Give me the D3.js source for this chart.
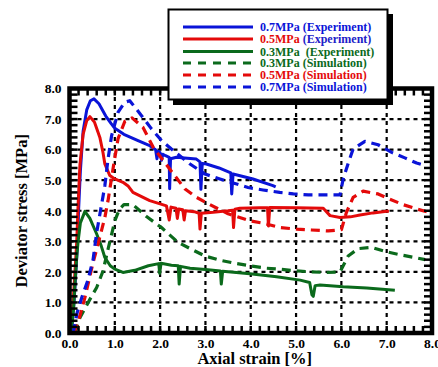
<!DOCTYPE html>
<html><head><meta charset="utf-8">
<script src="https://cdn.jsdelivr.net/npm/d3@7"></script>
<style>body{margin:0;background:#fff}svg{display:block}svg text{font-family:"Liberation Serif","Times New Roman",serif !important;font-weight:bold !important}</style>
</head><body>
<div id="chart"></div>
<script>
const xTicks = [0,1,2,3,4,5,6,7,8];
const yTicks = [0,1,2,3,4,5,6,7,8];
const xLabel = "Axial strain [%]";
const yLabel = "Deviator stress [MPa]";

// Experiments [strain, stress]
const exp07 = [[0.04,0],[0.1,1.0],[0.14,2.0],[0.18,3.0],[0.2,4.0],[0.24,5.3],[0.3,6.6],[0.38,7.3],[0.46,7.6],[0.54,7.66],[0.65,7.5],[0.8,7.1],[0.92,6.85],[1.0,6.7],[1.2,6.5],[1.5,6.3],[1.77,6.13],[1.9,6.0],[1.93,5.7],[1.96,5.95],[2.0,5.9],[2.03,5.65],[2.06,5.85],[2.12,5.8],[2.2,5.75],[2.21,4.72],[2.23,5.7],[2.36,5.75],[2.6,5.72],[2.8,5.69],[2.88,5.6],[2.9,4.7],[2.93,5.55],[3.02,5.53],[3.3,5.4],[3.56,5.24],[3.58,4.55],[3.61,5.2],[4.05,5.04],[4.49,4.82],[4.55,4.78]];
const exp05 = [[0.03,0],[0.08,1.0],[0.12,2.0],[0.16,3.0],[0.19,4.2],[0.23,5.5],[0.3,6.5],[0.38,6.95],[0.45,7.08],[0.55,6.9],[0.67,6.4],[0.74,5.9],[0.78,5.53],[0.89,5.15],[1.0,5.04],[1.18,4.93],[1.3,4.8],[1.4,4.6],[1.77,4.33],[2.14,4.16],[2.2,3.7],[2.24,4.12],[2.35,4.08],[2.38,3.75],[2.41,4.06],[2.5,4.03],[2.53,3.7],[2.56,4.0],[2.75,3.97],[2.86,3.92],[2.88,3.4],[2.91,3.92],[3.17,3.95],[3.5,4.0],[3.6,4.02],[3.62,3.45],[3.65,4.05],[3.76,4.08],[4.2,4.1],[4.37,4.1],[4.39,3.5],[4.42,4.11],[5.0,4.1],[5.6,4.08],[5.75,3.84],[5.97,3.78],[6.2,3.8],[6.41,3.86],[6.7,3.93],[7.0,3.98],[7.05,3.98]];
const exp03 = [[0.04,0],[0.09,0.8],[0.12,1.6],[0.16,2.5],[0.19,3.0],[0.24,3.6],[0.34,3.98],[0.45,3.75],[0.6,3.24],[0.7,2.85],[0.78,2.47],[0.9,2.2],[1.0,2.09],[1.18,1.98],[1.44,2.05],[1.74,2.2],[1.97,2.27],[1.99,1.95],[2.02,2.28],[2.25,2.22],[2.4,2.2],[2.42,1.6],[2.45,2.18],[2.66,2.12],[3.0,2.08],[3.33,2.03],[3.35,1.6],[3.38,2.02],[3.98,1.94],[4.57,1.84],[5.09,1.73],[5.3,1.65],[5.35,1.25],[5.38,1.2],[5.42,1.55],[5.53,1.57],[6.04,1.51],[6.56,1.47],[7.18,1.4]];

// Simulations
const sim03 = [[0.12,0],[0.23,0.5],[0.45,1.1],[0.6,1.49],[0.74,2.03],[0.86,2.8],[1.0,3.67],[1.1,4.05],[1.2,4.2],[1.4,4.2],[1.7,3.81],[2.03,3.45],[2.4,2.96],[2.69,2.74],[2.99,2.52],[3.32,2.38],[3.69,2.27],[3.98,2.2],[4.35,2.12],[4.68,2.08],[5.01,2.03],[5.34,2.0],[5.67,1.98],[5.97,2.0],[6.04,2.2],[6.15,2.52],[6.37,2.76],[6.67,2.8],[6.96,2.67],[7.29,2.56],[7.62,2.47],[7.85,2.4]];
const sim05 = [[0.1,0],[0.23,0.56],[0.34,1.16],[0.52,2.3],[0.63,2.91],[0.78,3.78],[0.85,4.33],[0.96,5.37],[1.07,6.35],[1.22,6.92],[1.38,7.04],[1.62,6.73],[1.85,6.07],[2.1,5.58],[2.55,4.71],[2.8,4.44],[3.1,4.2],[3.5,3.9],[3.98,3.67],[4.31,3.58],[4.64,3.45],[5.01,3.4],[5.34,3.37],[5.71,3.34],[6.0,3.38],[6.11,3.94],[6.26,4.44],[6.48,4.64],[6.81,4.55],[7.07,4.38],[7.36,4.2],[7.66,4.06],[7.92,3.95]];
const sim07 = [[0.08,0],[0.17,0.67],[0.28,1.2],[0.4,1.7],[0.52,2.4],[0.6,3.29],[0.71,4.22],[0.78,4.82],[0.85,5.69],[0.93,6.46],[1.07,7.22],[1.22,7.55],[1.33,7.6],[1.59,7.11],[1.81,6.68],[2.03,6.3],[2.25,6.02],[2.66,5.53],[2.99,5.2],[3.32,5.04],[3.94,4.76],[4.27,4.68],[4.64,4.6],[4.94,4.55],[5.27,4.52],[5.97,4.52],[6.04,5.04],[6.15,5.55],[6.26,6.02],[6.52,6.27],[6.81,6.16],[7.11,5.91],[7.4,5.73],[7.66,5.56],[7.8,5.5]];

const BLUE = "#0a14d8", RED = "#e40a0a", GREEN = "#0b6a1c";
const series = [
  {name:"0.7MPa (Experiment)", data:exp07, color:BLUE, dash:null},
  {name:"0.5MPa (Experiment)", data:exp05, color:RED, dash:null},
  {name:"0.3MPa  (Experiment)", data:exp03, color:GREEN, dash:null},
  {name:"0.3MPa (Simulation)", data:sim03, color:GREEN, dash:"9,6"},
  {name:"0.5MPa (Simulation)", data:sim05, color:RED, dash:"9,6"},
  {name:"0.7MPa (Simulation)", data:sim07, color:BLUE, dash:"9,6"}
];

const W = 438, H = 367;
const svg = d3.select("#chart").append("svg").attr("width", W).attr("height", H);
const x = d3.scaleLinear().domain([0,8]).range([69.5,432]);
const y = d3.scaleLinear().domain([0,8]).range([333,88.5]);

// grid
const grid = svg.append("g").attr("stroke","#000").attr("stroke-width",2.2).attr("stroke-dasharray","4,4");
xTicks.slice(1,-1).forEach(t => grid.append("line").attr("x1",x(t)).attr("x2",x(t)).attr("y1",y(0)).attr("y2",y(8)));
yTicks.slice(1,-1).forEach(t => grid.append("line").attr("y1",y(t)).attr("y2",y(t)).attr("x1",x(0)).attr("x2",x(8)));

// curves
const line = d3.line().x(d => x(d[0])).y(d => y(d[1])).curve(d3.curveLinear);
svg.append("clipPath").attr("id","clip").append("rect").attr("x",x(0)).attr("y",y(8)).attr("width",x(8)-x(0)).attr("height",y(0)-y(8));
svg.append("g").attr("clip-path","url(#clip)").selectAll("path").data(series).join("path")
  .attr("d", d => line(d.data)).attr("fill","none").attr("stroke", d => d.color)
  .attr("stroke-width", d => d.dash ? 3.2 : 3).attr("stroke-dasharray", d => d.dash)
  .attr("stroke-linejoin","round");

// minor ticks inward, every 0.2
const minor = d3.range(0, 8.001, 0.2);
const tk = svg.append("g").attr("stroke","#000").attr("stroke-width",2.5);
minor.forEach(v => {
  tk.append("line").attr("x1",x(v)).attr("x2",x(v)).attr("y1",y(0)).attr("y2",y(0)-7);
  tk.append("line").attr("x1",x(v)).attr("x2",x(v)).attr("y1",y(8)).attr("y2",y(8)+7);
  tk.append("line").attr("y1",y(v)).attr("y2",y(v)).attr("x1",x(0)).attr("x2",x(0)+8);
  tk.append("line").attr("y1",y(v)).attr("y2",y(v)).attr("x1",x(8)).attr("x2",x(8)-8);
});

// frame
svg.append("rect").attr("x",x(0)).attr("y",y(8)).attr("width",x(8)-x(0)).attr("height",y(0)-y(8))
  .attr("fill","none").attr("stroke","#000").attr("stroke-width",4.5);

// axes (labels only)
const xAxis = d3.axisBottom(x).tickValues(xTicks).tickFormat(d3.format(".1f")).tickSize(0).tickPadding(3);
const gx = svg.append("g").attr("transform",`translate(0,${y(0)+2})`).call(xAxis);
gx.select(".domain").remove();
gx.selectAll("text").attr("font-size",13.5).attr("fill","#000");
const yAxis = d3.axisLeft(y).tickValues(yTicks).tickFormat(d3.format(".1f")).tickSize(0).tickPadding(7);
const gy = svg.append("g").attr("transform",`translate(${x(0)-1},0)`).call(yAxis);
gy.select(".domain").remove();
gy.selectAll("text").attr("font-size",13.5).attr("fill","#000");
gx.attr("font-family",null); gy.attr("font-family",null);

svg.append("text").attr("x",(x(0)+x(8))/2+4).attr("y",364).attr("text-anchor","middle").attr("font-size",16.5).text(xLabel);
svg.append("text").attr("transform",`translate(27,${(y(0)+y(8))/2}) rotate(-90)`).attr("text-anchor","middle").attr("font-size",16.5).text(yLabel);

// legend
const lg = svg.append("g");
lg.append("rect").attr("x",173).attr("y",14).attr("width",220).attr("height",91).attr("fill","#000");
lg.append("rect").attr("x",168.5).attr("y",9.5).attr("width",219).attr("height",90).attr("fill","#fff").attr("stroke","#000").attr("stroke-width",2);
const rowY = [27, 39, 51.5, 63, 75, 87];
series.forEach((s,i) => {
  lg.append("line").attr("x1",183).attr("x2",253).attr("y1",rowY[i]).attr("y2",rowY[i])
    .attr("stroke",s.color).attr("stroke-width",3).attr("stroke-dasharray", s.dash ? "8,7" : null);
  const t = lg.append("text").attr("x",260).attr("y",rowY[i]+4).attr("font-size",12);
  const parts = s.name.match(/^(\S+)(\s+.*)$/);
  t.append("tspan").attr("fill", s.color).text(parts[1]);
  t.append("tspan").attr("fill", s.color === RED && !s.dash ? "#2020c8" : s.color).text(parts[2].replace(/^\s+/, m => "\u00a0".repeat(m.length)));
});
</script>
</body></html>
